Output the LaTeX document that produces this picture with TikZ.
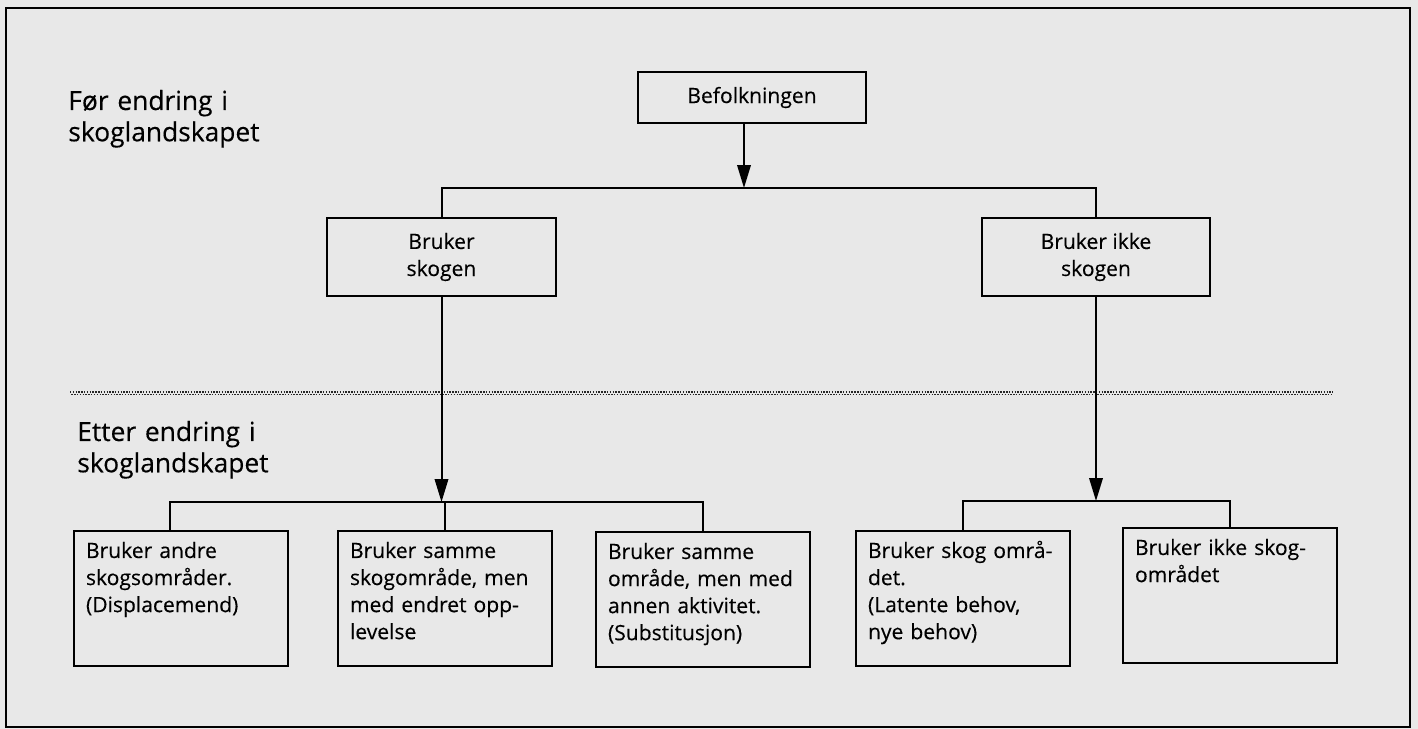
\documentclass[tikz,border=0pt]{standalone}
\usepackage{fontspec}
\setmainfont[FakeBold = 0.3]{Open Sans}
\usetikzlibrary{arrows.meta}
\usetikzlibrary{positioning}
\tikzset{linje/.style = {line width = 0.4mm}}
\tikzset{pil/.style = {linje, -{Triangle[length = 0.46cm, width = 0.27cm]}}}
\tikzset{skille/.style = {draw = black!85, line width = 0.35mm, dash pattern = on 0.8pt off 0.8pt}}
\tikzset{tittel/.style = {anchor = base west, align = left, text width = 6cm, inner sep = 0, font = \fontsize{15}{17.8}\selectfont}}
\tikzset{boks/.style = {draw, linje, align = center, inner sep = 0, font = \fontsize{12}{15.4}\selectfont}}
\tikzset{nedre/.style = {draw, linje, anchor = north west, align = left, text width = 3.8cm, inner xsep = 0.24cm, inner ysep = 0.24cm, text height = 0.3cm, text depth = 1.92cm, font = \fontsize{12}{15.4}\selectfont}}

\begin{document}
\begin{tikzpicture}[x = 0.02cm, y = -0.02cm]
      \fill [black!9] (0, 0) rectangle (1418, 729);
      \useasboundingbox (0, 0) rectangle (1418, 729);
      \draw [linje] (6, 8) rectangle (1410, 727);

      % foer og etter endringen
      \node [tittel] (foer) at (68, 110) {Før endring i\\skoglandskapet};
      \node [tittel] (etter) at (77, 441) {Etter endring i\\skoglandskapet};
      \draw [skille] (70, 392) -- (1333, 392);
      \draw [skille, dash phase = 0.8pt] (70, 394.5) -- (1333, 394.5);

      \node [boks, minimum width = 4.56cm, minimum height = 1.02cm] (befolk) at (752, 97.5) {Befolkningen};
      \node [boks, minimum width = 4.58cm, minimum height = 1.56cm] (bruker) at (441.5, 257) {Bruker\\skogen};
      \node [boks, minimum width = 4.56cm, minimum height = 1.56cm] (ikke) at (1096, 257) {Bruker ikke\\skogen};

      \node [nedre] (andre) at (73, 530) {Bruker andre\\skogsområder.\\(Displacemend)};
      \node [nedre] (samme) at (337, 530) {Bruker samme\\skogområde, men\\med endret opp-\\levelse};
      \node [nedre] (aktivitet) at (595, 531) {Bruker samme\\område, men med\\annen aktivitet.\\(Substitusjon)};
      \node [nedre] (latent) at (855, 530) {Bruker skog områ-\\det.\\(Latente behov,\\nye behov)};
      \node [nedre] (ikkeomr) at (1122, 527) {Bruker ikke skog-\\området};

      \coordinate (delt) at (744, 188);
      \coordinate (venstre) at (441, 502);
      \coordinate (hoyre) at (1093, 501);
      \coordinate (fot) at (170, 502);

      \draw [pil] (befolk.south -| delt) -- (delt);
      \draw [linje] (bruker.north) |- (delt) -| (ikke.north);

      \draw [pil] (bruker.south) -- (bruker.south |- venstre);
      \draw [linje] (andre.north -| fot) |- (venstre) -| (aktivitet.north);
      \draw [linje] (samme.north) -- (samme.north |- venstre);

      \draw [pil] (ikke.south) -- (ikke.south |- hoyre);
      \draw [linje] (latent.north) |- (hoyre) -| (ikkeomr.north);
    \end{tikzpicture}
\end{document}
